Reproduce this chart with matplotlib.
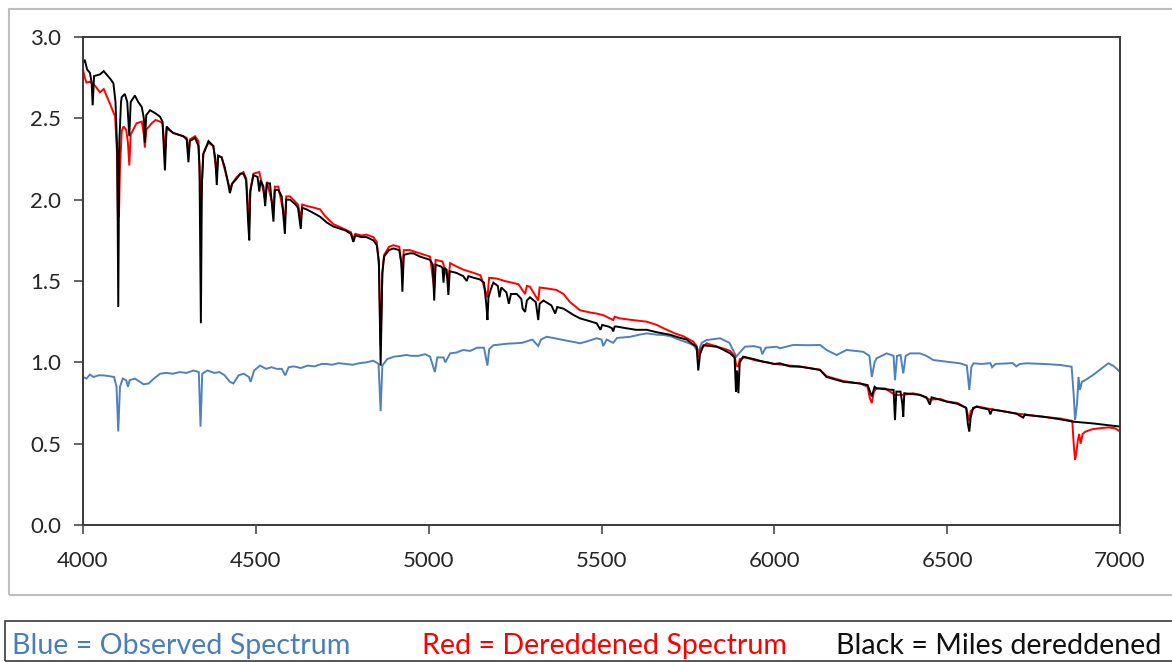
import numpy as np
import matplotlib
matplotlib.use("Agg")
import matplotlib.pyplot as plt
from matplotlib.patches import Rectangle
from matplotlib.ticker import FormatStrFormatter

# Observed spectrum (wavelength in Angstrom, relative flux)
observed = [
    (4000, 0.91), (4010, 0.90), (4020, 0.925), (4030, 0.91), (4045, 0.92), (4060, 0.92),
    (4075, 0.915), (4090, 0.91), (4097, 0.85), (4102, 0.575), (4107, 0.85), (4115, 0.90),
    (4125, 0.89), (4130, 0.85), (4135, 0.89), (4150, 0.90), (4165, 0.88), (4175, 0.865),
    (4190, 0.87), (4205, 0.90), (4223, 0.93), (4240, 0.935), (4260, 0.93), (4280, 0.94),
    (4300, 0.935), (4320, 0.95), (4335, 0.94), (4340, 0.605), (4345, 0.93), (4360, 0.95),
    (4380, 0.935), (4395, 0.94), (4410, 0.92), (4425, 0.88), (4435, 0.87), (4450, 0.92),
    (4465, 0.93), (4480, 0.91), (4485, 0.88), (4495, 0.95), (4512, 0.98), (4530, 0.96),
    (4545, 0.97), (4560, 0.96), (4575, 0.96), (4585, 0.92), (4595, 0.97), (4610, 0.975),
    (4630, 0.965), (4650, 0.98), (4670, 0.975), (4690, 0.99), (4705, 0.99), (4720, 0.985),
    (4740, 0.995), (4760, 0.99), (4780, 0.985), (4800, 0.995), (4820, 1.00), (4840, 1.01),
    (4855, 0.99), (4861, 0.70), (4866, 0.98), (4880, 1.02), (4900, 1.035), (4920, 1.04),
    (4935, 1.045), (4950, 1.04), (4970, 1.04), (4990, 1.05), (5004, 1.035), (5018, 0.94),
    (5025, 1.03), (5043, 1.03), (5048, 1.00), (5062, 1.055), (5080, 1.06), (5100, 1.076),
    (5120, 1.07), (5140, 1.09), (5160, 1.09), (5170, 0.98), (5175, 1.08), (5187, 1.105),
    (5210, 1.11), (5230, 1.115), (5250, 1.117), (5270, 1.12), (5300, 1.14), (5317, 1.10),
    (5325, 1.14), (5341, 1.157), (5360, 1.15), (5390, 1.137), (5420, 1.125), (5438, 1.117),
    (5460, 1.13), (5486, 1.148), (5500, 1.14), (5505, 1.10), (5515, 1.14), (5534, 1.12),
    (5545, 1.15), (5583, 1.157), (5610, 1.17), (5631, 1.178), (5660, 1.17), (5679, 1.168),
    (5700, 1.16), (5727, 1.137), (5750, 1.12), (5766, 1.105), (5780, 1.065), (5790, 1.12),
    (5804, 1.137), (5843, 1.148), (5870, 1.12), (5890, 1.035), (5900, 1.06), (5915, 1.096),
    (5940, 1.10), (5960, 1.09), (5965, 1.05), (5975, 1.09), (6007, 1.096), (6016, 1.086),
    (6055, 1.107), (6100, 1.105), (6132, 1.107), (6151, 1.076), (6180, 1.045), (6209, 1.076),
    (6257, 1.065), (6275, 1.04), (6282, 0.91), (6290, 1.00), (6296, 1.025), (6325, 1.055),
    (6345, 1.04), (6349, 0.89), (6355, 1.04), (6365, 1.045), (6373, 0.932), (6380, 1.04),
    (6393, 1.055), (6421, 1.055), (6440, 1.04), (6460, 1.014), (6499, 1.004), (6537, 0.994),
    (6557, 0.98), (6564, 0.83), (6570, 0.97), (6576, 0.994), (6600, 0.99), (6625, 0.995),
    (6630, 0.97), (6640, 0.99), (6690, 0.995), (6700, 0.975), (6710, 0.99), (6730, 0.994),
    (6780, 0.99), (6826, 0.984), (6860, 0.973), (6866, 0.80), (6870, 0.645), (6876, 0.75),
    (6880, 0.91), (6884, 0.83), (6890, 0.88), (6899, 0.89), (6922, 0.922), (6945, 0.96),
    (6966, 0.994), (6980, 0.98), (7000, 0.942),
]

# Dereddened spectrum
dereddened = [
    (4000, 2.80), (4005, 2.75), (4010, 2.72), (4020, 2.725), (4035, 2.70), (4049, 2.66),
    (4060, 2.68), (4078, 2.59), (4093, 2.51), (4098, 2.30), (4101, 1.90), (4104, 1.895),
    (4107, 2.20), (4112, 2.42), (4117, 2.45), (4125, 2.43), (4130, 2.35), (4134, 2.21),
    (4138, 2.40), (4155, 2.47), (4170, 2.48), (4176, 2.40), (4179, 2.32), (4183, 2.43),
    (4199, 2.47), (4210, 2.49), (4223, 2.48), (4230, 2.47), (4237, 2.30), (4242, 2.44),
    (4261, 2.41), (4275, 2.40), (4290, 2.39), (4300, 2.38), (4305, 2.28), (4309, 2.37),
    (4324, 2.39), (4334, 2.36), (4337, 2.20), (4341, 1.96), (4344, 2.10), (4348, 2.28),
    (4353, 2.31), (4363, 2.35), (4377, 2.33), (4387, 2.15), (4391, 2.27), (4401, 2.26),
    (4418, 2.12), (4425, 2.07), (4432, 2.10), (4445, 2.14), (4464, 2.17), (4472, 2.13),
    (4481, 1.85), (4484, 2.06), (4493, 2.16), (4510, 2.17), (4527, 2.00), (4532, 2.11),
    (4551, 1.95), (4555, 2.08), (4565, 2.08), (4584, 1.88), (4588, 2.02), (4599, 2.02),
    (4622, 1.97), (4630, 1.88), (4634, 1.97), (4650, 1.96), (4670, 1.95), (4686, 1.94),
    (4700, 1.90), (4724, 1.85), (4745, 1.83), (4775, 1.80), (4782, 1.76), (4788, 1.79),
    (4805, 1.78), (4820, 1.785), (4840, 1.77), (4850, 1.74), (4856, 1.60), (4861, 1.10),
    (4866, 1.55), (4871, 1.66), (4885, 1.71), (4898, 1.72), (4915, 1.71), (4924, 1.55),
    (4928, 1.69), (4945, 1.69), (4960, 1.68), (4990, 1.66), (5004, 1.65), (5016, 1.45),
    (5020, 1.63), (5040, 1.62), (5057, 1.50), (5062, 1.61), (5080, 1.59), (5100, 1.57),
    (5130, 1.55), (5150, 1.535), (5170, 1.40), (5175, 1.52), (5197, 1.515), (5220, 1.50),
    (5240, 1.49), (5260, 1.48), (5279, 1.42), (5284, 1.47), (5293, 1.465), (5317, 1.38),
    (5321, 1.46), (5340, 1.455), (5370, 1.445), (5390, 1.42), (5409, 1.37), (5438, 1.32),
    (5470, 1.305), (5486, 1.30), (5505, 1.29), (5534, 1.26), (5538, 1.28), (5554, 1.27),
    (5590, 1.26), (5631, 1.25), (5660, 1.23), (5679, 1.21), (5710, 1.18), (5737, 1.16),
    (5766, 1.127), (5775, 1.10), (5780, 1.03), (5785, 1.08), (5804, 1.117), (5830, 1.10),
    (5860, 1.08), (5872, 1.07), (5885, 1.04), (5890, 0.98), (5896, 0.975), (5900, 1.02),
    (5915, 1.03), (5950, 1.01), (5980, 1.00), (6000, 0.99), (6045, 0.98), (6074, 0.975),
    (6100, 0.965), (6132, 0.955), (6151, 0.915), (6175, 0.90), (6200, 0.885), (6248, 0.87),
    (6270, 0.85), (6276, 0.78), (6282, 0.75), (6288, 0.82), (6296, 0.84), (6320, 0.84),
    (6349, 0.80), (6373, 0.80), (6400, 0.81), (6421, 0.80), (6450, 0.77), (6480, 0.775),
    (6499, 0.76), (6530, 0.75), (6555, 0.72), (6564, 0.64), (6568, 0.70), (6585, 0.73),
    (6620, 0.715), (6660, 0.70), (6700, 0.685), (6730, 0.678), (6780, 0.665), (6826, 0.655),
    (6862, 0.64), (6866, 0.50), (6870, 0.40), (6874, 0.45), (6878, 0.52), (6882, 0.56),
    (6886, 0.50), (6892, 0.56), (6900, 0.574), (6922, 0.59), (6945, 0.595), (6966, 0.60),
    (6985, 0.595), (7000, 0.575),
]

# MILES library template, dereddened
miles = [
    (4000, 2.84), (4005, 2.86), (4012, 2.80), (4020, 2.78), (4025, 2.72), (4028, 2.58),
    (4032, 2.76), (4049, 2.77), (4060, 2.79), (4068, 2.77), (4080, 2.74), (4088, 2.715),
    (4094, 2.60), (4099, 2.30), (4102, 1.34), (4105, 2.35), (4110, 2.60), (4112, 2.63),
    (4121, 2.65), (4128, 2.60), (4134, 2.39), (4138, 2.60), (4150, 2.64), (4160, 2.60),
    (4170, 2.57), (4176, 2.50), (4179, 2.35), (4183, 2.52), (4194, 2.55), (4210, 2.53),
    (4223, 2.51), (4230, 2.48), (4237, 2.18), (4242, 2.45), (4250, 2.43), (4261, 2.41),
    (4275, 2.40), (4290, 2.39), (4300, 2.37), (4305, 2.23), (4309, 2.36), (4324, 2.38),
    (4334, 2.33), (4337, 2.20), (4341, 1.24), (4344, 2.10), (4348, 2.28), (4353, 2.305),
    (4363, 2.36), (4377, 2.33), (4383, 2.25), (4387, 2.09), (4391, 2.27), (4401, 2.26),
    (4410, 2.20), (4418, 2.12), (4425, 2.04), (4432, 2.10), (4445, 2.13), (4455, 2.16),
    (4464, 2.16), (4472, 2.12), (4478, 1.85), (4481, 1.75), (4484, 2.05), (4493, 2.15),
    (4505, 2.14), (4510, 2.05), (4514, 2.12), (4522, 2.08), (4527, 1.96), (4532, 2.10),
    (4541, 2.10), (4551, 1.865), (4555, 2.06), (4565, 2.06), (4575, 2.02), (4584, 1.79),
    (4588, 2.00), (4599, 2.00), (4615, 1.97), (4622, 1.95), (4630, 1.82), (4634, 1.95),
    (4647, 1.94), (4665, 1.92), (4686, 1.895), (4705, 1.86), (4724, 1.835), (4745, 1.82),
    (4760, 1.81), (4775, 1.79), (4782, 1.74), (4788, 1.78), (4805, 1.77), (4820, 1.77),
    (4840, 1.75), (4850, 1.72), (4856, 1.62), (4861, 0.98), (4866, 1.55), (4871, 1.65),
    (4885, 1.69), (4898, 1.70), (4915, 1.69), (4921, 1.61), (4924, 1.434), (4928, 1.66),
    (4945, 1.67), (4956, 1.67), (4975, 1.65), (4990, 1.64), (5004, 1.63), (5012, 1.60),
    (5016, 1.38), (5020, 1.60), (5035, 1.59), (5040, 1.58), (5043, 1.49), (5046, 1.58),
    (5052, 1.57), (5057, 1.414), (5061, 1.56), (5080, 1.55), (5100, 1.53), (5110, 1.50),
    (5115, 1.53), (5130, 1.52), (5148, 1.51), (5160, 1.49), (5167, 1.35), (5170, 1.26),
    (5173, 1.40), (5180, 1.45), (5187, 1.49), (5200, 1.47), (5205, 1.40), (5210, 1.46),
    (5225, 1.43), (5232, 1.36), (5238, 1.42), (5255, 1.42), (5268, 1.39), (5272, 1.33),
    (5279, 1.31), (5284, 1.38), (5293, 1.40), (5310, 1.37), (5317, 1.26), (5321, 1.36),
    (5332, 1.38), (5355, 1.35), (5366, 1.30), (5372, 1.34), (5390, 1.33), (5405, 1.31),
    (5420, 1.29), (5438, 1.27), (5455, 1.26), (5470, 1.25), (5486, 1.24), (5497, 1.20),
    (5502, 1.23), (5520, 1.22), (5530, 1.21), (5534, 1.19), (5538, 1.22), (5544, 1.22),
    (5570, 1.21), (5600, 1.20), (5631, 1.20), (5660, 1.185), (5698, 1.17), (5720, 1.155),
    (5746, 1.14), (5765, 1.11), (5775, 1.096), (5780, 0.95), (5785, 1.05), (5795, 1.105),
    (5815, 1.10), (5833, 1.096), (5850, 1.08), (5872, 1.055), (5885, 1.03), (5889, 0.82),
    (5892, 0.95), (5896, 0.81), (5900, 1.00), (5910, 1.035), (5940, 1.02), (5968, 1.004),
    (6000, 0.99), (6016, 0.994), (6045, 0.975), (6074, 0.973), (6100, 0.965), (6132, 0.953),
    (6151, 0.91), (6175, 0.895), (6200, 0.88), (6248, 0.87), (6270, 0.86), (6282, 0.79),
    (6290, 0.85), (6296, 0.84), (6320, 0.835), (6345, 0.83), (6349, 0.645), (6353, 0.82),
    (6365, 0.82), (6370, 0.75), (6373, 0.666), (6376, 0.81), (6400, 0.805), (6421, 0.80),
    (6440, 0.785), (6450, 0.74), (6455, 0.785), (6480, 0.77), (6499, 0.758), (6530, 0.745),
    (6555, 0.72), (6560, 0.62), (6564, 0.574), (6568, 0.66), (6575, 0.72), (6585, 0.727),
    (6600, 0.72), (6620, 0.71), (6625, 0.68), (6630, 0.71), (6660, 0.70), (6700, 0.685),
    (6720, 0.66), (6725, 0.68), (6730, 0.676), (6780, 0.665), (6826, 0.65), (6865, 0.635),
    (6920, 0.625), (6960, 0.615), (7000, 0.605),
]

x_ticks = [4000, 4500, 5000, 5500, 6000, 6500, 7000]
y_ticks = [0.0, 0.5, 1.0, 1.5, 2.0, 2.5, 3.0]

captions = ["Blue = Observed Spectrum", "Red = Dereddened Spectrum", "Black = Miles dereddened"]

BLUE = "#4F81BD"
RED = "#FF0000"
BLACK = "#000000"
TEXT = "#262626"

plt.rcParams["font.family"] = ["Lato", "DejaVu Sans"]

W, H = 1172, 662
fig = plt.figure(figsize=(W / 100, H / 100), dpi=100)
fig.patch.set_facecolor("white")


def fx(px):
    return px / W


def fy(py):
    return 1 - py / H


# chart frame and caption strip
fig.patches.append(Rectangle((fx(8.5), fy(594.5)), fx(1200) - fx(8.5), fy(8.5) - fy(594.5),
                             transform=fig.transFigure, fill=False, edgecolor="#BFBFBF",
                             linewidth=1.5, zorder=0))
fig.patches.append(Rectangle((fx(4.5), fy(661)), fx(1200) - fx(4.5), fy(621) - fy(661),
                             transform=fig.transFigure, fill=False, edgecolor="#3A3A3A",
                             linewidth=1.2, zorder=0))

ax = fig.add_axes([fx(83), fy(525), fx(1120) - fx(83), fy(37) - fy(525)])

for data, color in ((observed, BLUE), (dereddened, RED), (miles, BLACK)):
    wave, flux = np.array(data).T
    ax.plot(wave, flux, color=color, linewidth=1.4, solid_joinstyle="miter")

ax.set_xlim(4000, 7000)
ax.set_ylim(0, 3)
ax.set_xticks(x_ticks)
ax.set_yticks(y_ticks)
ax.yaxis.set_major_formatter(FormatStrFormatter("%.1f"))

for side in ("left", "right", "top", "bottom"):
    ax.spines[side].set_color("#3A3A3A")
    ax.spines[side].set_linewidth(1.4)

ax.tick_params(axis="both", direction="out", length=6.5, width=1.1, color="#3A3A3A",
               labelsize=16, labelcolor=TEXT)
ax.tick_params(axis="x", pad=12)
ax.tick_params(axis="y", pad=9)

# caption strip text
fig.text(fx(12), fy(654), captions[0], color="#4A7EBB", fontsize=20.6, va="baseline", ha="left")
fig.text(fx(422), fy(654), captions[1], color=RED, fontsize=20.6, va="baseline", ha="left")
fig.text(fx(836), fy(654), captions[2], color="#111111", fontsize=20.6, va="baseline", ha="left")

fig.savefig("out.png", dpi=100, facecolor="white")
